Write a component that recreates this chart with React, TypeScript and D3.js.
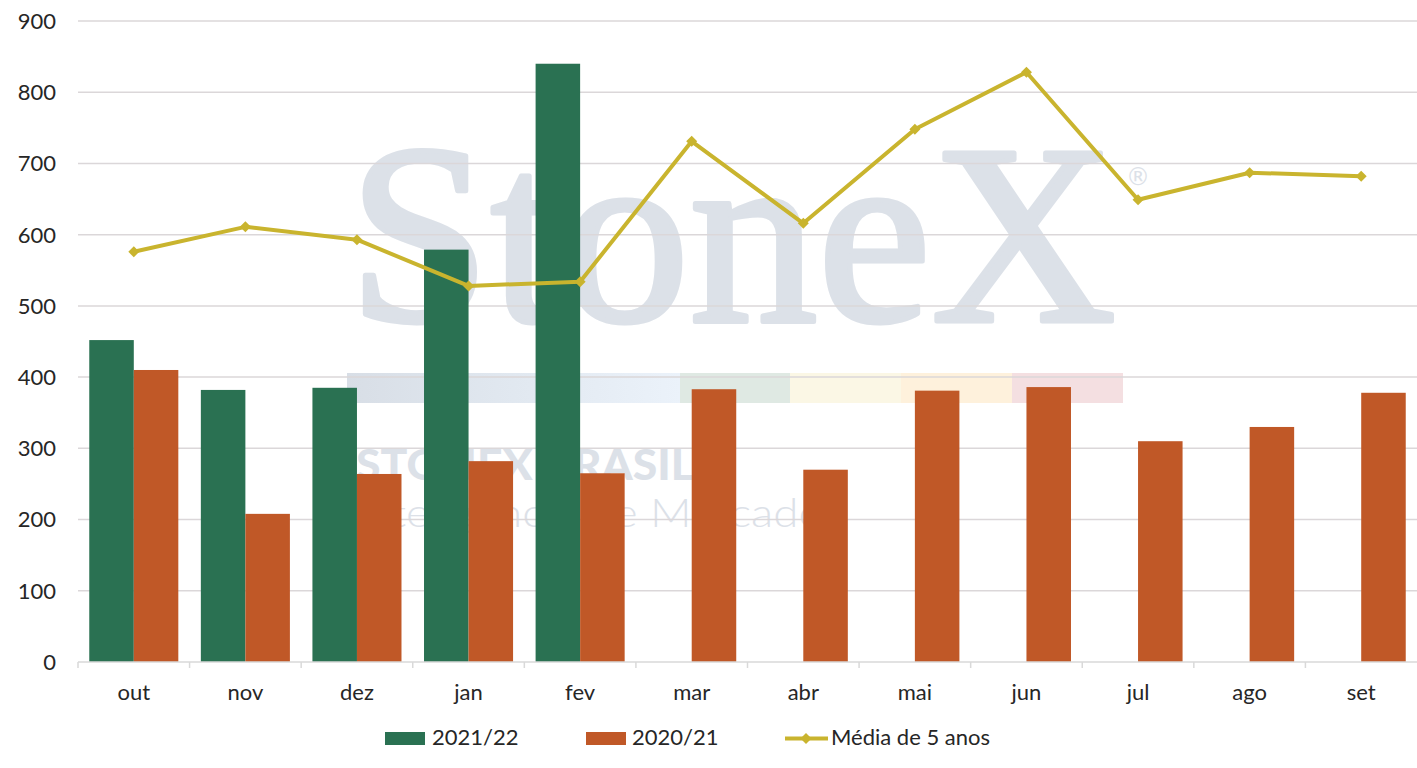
import React from "react";
import * as d3 from "d3";

const categories = ["out", "nov", "dez", "jan", "fev", "mar", "abr", "mai", "jun", "jul", "ago", "set"];
const series2122: (number | null)[] = [452, 382, 385, 579, 840, null, null, null, null, null, null, null];
const series2021: number[] = [410, 208, 264, 282, 265, 383, 270, 381, 386, 310, 330, 378];
const media5: number[] = [576, 611, 593, 528, 534, 731, 616, 748, 828, 649, 687, 682];
const yTicks = [0, 100, 200, 300, 400, 500, 600, 700, 800, 900];
const legendLabels = ["2021/22", "2020/21", "Média de 5 anos"];

const W = 1417;
const H = 768;
const GREEN = "#2a7152";
const ORANGE = "#c05827";
const GOLD = "#c9b42e";
const FONT = "Lato, 'Noto Sans', sans-serif";

export default function App() {
  const left = 78;
  const right = 1417;
  const top = 21;
  const bottom = 662;

  const x = d3.scaleBand<string>().domain(categories).range([left, right]).paddingInner(0).paddingOuter(0);
  const inner = d3.scaleBand<string>().domain(["a", "b"]).range([0, x.bandwidth()]).paddingOuter(0.253).paddingInner(0);
  const y = d3.scaleLinear().domain([0, 900]).range([bottom, top]);

  const linePts: [number, number][] = media5.map((v, i) => [x(categories[i])! + x.bandwidth() / 2, y(v)]);
  const lineGen = d3.line();

  const diamond = (cx: number, cy: number, r: number) =>
    `M${cx},${cy - r}L${cx + r},${cy}L${cx},${cy + r}L${cx - r},${cy}Z`;

  return (
    <div style={{ position: "absolute", left: 0, top: 0 }}>
      <svg width={W} height={H} style={{ display: "block", background: "#fff" }}>
        <defs>
          <linearGradient id="bandGrad" x1="0" x2="1" y1="0" y2="0">
            <stop offset="0" stopColor="#d8dee6" />
            <stop offset="0.5" stopColor="#e1e8f0" />
            <stop offset="1" stopColor="#ebf2fa" />
          </linearGradient>
        </defs>
        {/* watermark */}
        <g>
          <text x={348} y={321} fontFamily="'Liberation Serif', 'DejaVu Serif', serif" fontSize={256} fill="#dce1e8" stroke="#dce1e8" strokeWidth={5} strokeLinejoin="round" textLength={768} lengthAdjust="spacingAndGlyphs">StoneX</text>
          <text x={1138} y={185} fontFamily="'DejaVu Sans', sans-serif" fontSize={24} fill="#dce1e8" textAnchor="middle">®</text>
          <rect x={347} y={373} width={333} height={30} fill="url(#bandGrad)" />
          <rect x={680} y={373} width={110} height={30} fill="#dfe9e3" />
          <rect x={790} y={373} width={111} height={30} fill="#fbf7e5" />
          <rect x={901} y={373} width={111} height={30} fill="#fef1dc" />
          <rect x={1012} y={373} width={111} height={30} fill="#f4dfe1" />
          <text x={356} y={480} fontFamily="Lato, sans-serif" fontWeight={900} fontSize={42} fill="#dce1e8" textLength={338} lengthAdjust="spacingAndGlyphs">STONEX BRASIL</text>
          <text x={354} y={527} fontFamily="Lato, sans-serif" fontWeight={300} fontSize={40} fill="#dce1e8" textLength={470} lengthAdjust="spacingAndGlyphs">Inteligência de Mercado</text>
        </g>
        {/* gridlines */}
        {yTicks.filter((t) => t > 0).map((t) => (
          <line key={t} x1={left} x2={right} y1={y(t)} y2={y(t)} stroke="#dbd7d9" strokeWidth={1.5} />
        ))}
        {/* y labels */}
        {yTicks.map((t) => (
          <text key={t} x={56} y={y(t)} dy="0.36em" textAnchor="end" fontFamily={FONT} fontSize={22} fill="#262626">{t}</text>
        ))}
        {/* bars */}
        {categories.map((c, i) => {
          const v1 = series2122[i];
          const v2 = series2021[i];
          return (
            <g key={c}>
              {v1 != null && (
                <rect x={x(c)! + inner("a")!} y={y(v1)} width={inner.bandwidth()} height={y(0) - y(v1)} fill={GREEN} />
              )}
              <rect x={x(c)! + inner("b")!} y={y(v2)} width={inner.bandwidth()} height={y(0) - y(v2)} fill={ORANGE} />
            </g>
          );
        })}
        {/* x axis */}
        <line x1={left} x2={right} y1={bottom} y2={bottom} stroke="#d9d9d9" strokeWidth={1.5} />
        {categories.map((c) => (
          <line key={c} x1={x(c)!} x2={x(c)!} y1={bottom} y2={bottom + 6} stroke="#d9d9d9" strokeWidth={1.5} />
        ))}
        {categories.map((c) => (
          <text key={c} x={x(c)! + x.bandwidth() / 2} y={700} textAnchor="middle" fontFamily={FONT} fontSize={22} fill="#262626">{c}</text>
        ))}
        {/* line */}
        <path d={lineGen(linePts)!} fill="none" stroke={GOLD} strokeWidth={4} strokeLinejoin="round" />
        {linePts.map(([px, py], i) => (
          <path key={i} d={diamond(px, py, 5.5)} fill={GOLD} />
        ))}
        {/* legend */}
        <g fontFamily={FONT} fontSize={22} fill="#262626">
          <rect x={385} y={732} width={40} height={13} fill={GREEN} />
          <text x={432} y={745}>{legendLabels[0]}</text>
          <rect x={586} y={732} width={40} height={13} fill={ORANGE} />
          <text x={632} y={745}>{legendLabels[1]}</text>
          <line x1={785} x2={828} y1={738.5} y2={738.5} stroke={GOLD} strokeWidth={4} />
          <path d={diamond(806, 738.5, 5.5)} fill={GOLD} />
          <text x={831} y={745}>{legendLabels[2]}</text>
        </g>
      </svg>
    </div>
  );
}
